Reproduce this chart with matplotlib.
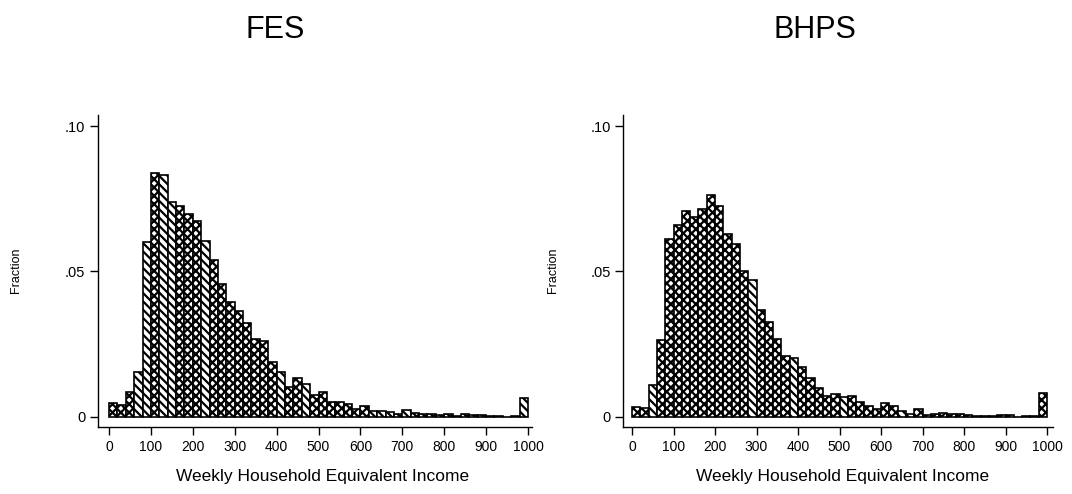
import numpy as np
import matplotlib
matplotlib.use("Agg")
import matplotlib.pyplot as plt

plt.rcParams['font.family'] = ['Liberation Sans', 'DejaVu Sans']
plt.rcParams['hatch.linewidth'] = 1.6

# Weekly household equivalent income, bins of width 20 from 0 to 1000
bin_edges = list(range(0, 1001, 20))

fes_fraction = [
    0.0046, 0.0040, 0.0086, 0.0153, 0.0601, 0.0837, 0.0830, 0.0739, 0.0724, 0.0699,
    0.0672, 0.0603, 0.0540, 0.0456, 0.0393, 0.0363, 0.0322, 0.0267, 0.0259, 0.0189,
    0.0153, 0.0101, 0.0132, 0.0113, 0.0074, 0.0086, 0.0052, 0.0049, 0.0043, 0.0025,
    0.0037, 0.0020, 0.0020, 0.0017, 0.0011, 0.0022, 0.0014, 0.0009, 0.0009, 0.0005,
    0.0009, 0.0003, 0.0009, 0.0005, 0.0005, 0.0002, 0.0002, 0.0000, 0.0002, 0.0063,
]

bhps_fraction = [
    0.0034, 0.0029, 0.0109, 0.0264, 0.0611, 0.0661, 0.0707, 0.0686, 0.0713, 0.0762,
    0.0724, 0.0629, 0.0594, 0.0502, 0.0469, 0.0366, 0.0325, 0.0267, 0.0209, 0.0201,
    0.0172, 0.0132, 0.0098, 0.0071, 0.0077, 0.0067, 0.0071, 0.0052, 0.0037, 0.0025,
    0.0048, 0.0038, 0.0021, 0.0009, 0.0025, 0.0005, 0.0010, 0.0013, 0.0010, 0.0008,
    0.0006, 0.0001, 0.0001, 0.0002, 0.0006, 0.0007, 0.0000, 0.0002, 0.0002, 0.0080,
]

# Shading per bar: 'x' = cross-hatch, 'd' = diagonal lines
fes_shading = list("xxxddxddxxxdxxxxxxxxdxxdxxxxxxxdddxd" + "x" * 13 + "d")
bhps_shading = list("xxdxxxxxxxxxxxdxxxxdxxxxxdxxxxxxddx" + "x" * 15)

x_ticks = list(range(0, 1001, 100))
y_ticks = [0, 0.05, 0.10]
y_tick_labels = ["0", ".05", ".10"]

titles = ["FES", "BHPS"]
x_title = "Weekly Household Equivalent Income"
y_title = "Fraction"

W, H = 1072, 494
fig = plt.figure(figsize=(W / 100, H / 100), dpi=100)

hatch_map = {'x': 'xxxx', 'd': '\\\\\\\\'}


def px_box(left, right, top, bottom):
    return [left / W, 1 - bottom / H, (right - left) / W, (bottom - top) / H]


panels = [
    dict(box=px_box(98, 532, 115, 427), x0=109, x1000=528, vals=fes_fraction,
         shade=fes_shading, title_x=275, xlabel_x=323, ylabel_x=16),
    dict(box=px_box(623, 1053, 115, 427), x0=632, x1000=1047, vals=bhps_fraction,
         shade=bhps_shading, title_x=815, xlabel_x=843, ylabel_x=553),
]

y_zero_px, y_top_px, y_bottom_px, y_ten_px = 416.7, 115, 427, 126

for p, title in zip(panels, titles):
    ax = fig.add_axes(p['box'])
    left, right = p['box'][0] * W, (p['box'][0] + p['box'][2]) * W
    scale = (p['x1000'] - p['x0']) / 1000.0
    ax.set_xlim((left - p['x0']) / scale, (right - p['x0']) / scale)
    yscale = (y_zero_px - y_ten_px) / 0.10
    ax.set_ylim((y_zero_px - y_bottom_px) / yscale, (y_zero_px - y_top_px) / yscale)

    for lo, v, s in zip(bin_edges[:-1], p['vals'], p['shade']):
        ax.bar(lo, v, width=20, align='edge', facecolor='white',
               edgecolor='black', linewidth=1.2, hatch=hatch_map[s])

    for side in ('top', 'right'):
        ax.spines[side].set_visible(False)
    for side in ('left', 'bottom'):
        ax.spines[side].set_linewidth(1.0)

    ax.set_xticks(x_ticks)
    ax.set_xticklabels([str(t) for t in x_ticks], fontsize=10)
    ax.set_yticks(y_ticks)
    ax.set_yticklabels(y_tick_labels, fontsize=10.5)
    ax.tick_params(axis='both', direction='out', length=6, width=1.0, pad=3)

    fig.text(p['title_x'] / W, 1 - 30 / H, title, ha='center', va='center',
             fontsize=22)
    fig.text(p['xlabel_x'] / W, 1 - 476 / H, x_title, ha='center',
             va='center', fontsize=12.5)
    fig.text(p['ylabel_x'] / W, 1 - 270 / H, y_title, ha='center',
             va='center', rotation=90, fontsize=9)

fig.savefig("out.png", dpi=100, facecolor='white')
